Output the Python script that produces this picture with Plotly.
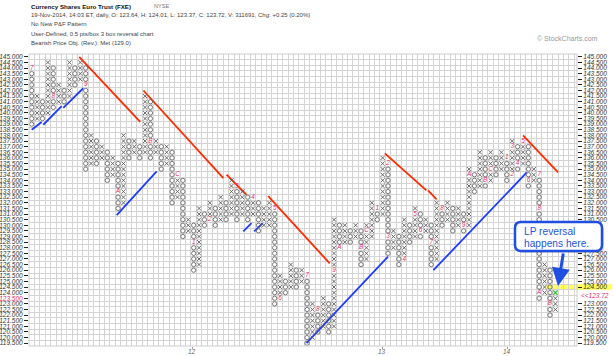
import plotly.graph_objects as go

# ---------------- data ----------------
# one entry per P&F column: type, highest box, lowest box
col_type = ["O", "X", "O", "X", "O", "X", "O", "X", "O", "X",
            "O", "X", "O", "X", "O", "X", "O", "X", "O", "X",
            "O", "X", "O", "X", "O", "X", "O", "X", "O", "X",
            "O", "X", "O", "X", "O", "X", "O", "X", "O", "X",
            "O", "X", "O", "X", "X", "O", "X", "O", "X", "O",
            "X", "O", "X", "O", "X", "O", "X", "O", "X", "O",
            "X", "O", "X", "X", "O", "X", "O", "X", "O", "X",
            "O", "X", "O", "X", "O", "X", "O", "X", "O", "X",
            "O", "X", "O", "X", "O", "X", "O", "X", "O", "X",
            "O", "X", "O", "X", "O", "X", "O", "X"]
col_top = [144, 141.5, 141, 144.5, 144, 142.5, 142, 144.5, 144, 144.5,
           144, 138, 137.5, 137, 136.5, 136, 135.5, 138, 137.5, 137.5,
           137, 141.5, 141, 137.5, 137, 137, 136.5, 134.5, 134, 130.5,
           130, 131.5, 131, 132, 131.5, 132.5, 132, 134, 133.5, 133,
           132.5, 132.5, 132, 131.5, 132, 131.5, 125.5, 125, 126.5, 126,
           126, 125.5, 123, 122.5, 123.5, 123, 130.5, 130, 130, 129.5,
           130, 129.5, 130, 132, 131.5, 136, 135.5, 129.5, 129, 130.5,
           130, 131.5, 131, 130.5, 130, 132, 131.5, 132, 131.5, 131.5,
           131, 135, 134.5, 136.5, 136, 136.5, 136, 136.5, 136, 137.5,
           137, 137.5, 137, 135, 134.5, 126.5, 126, 124]
col_bot = [139, 139.5, 139.5, 140, 140.5, 141, 141, 141.5, 142.5, 143,
           135, 135.5, 135.5, 136, 134, 134.5, 131.5, 132, 136, 136.5,
           136, 136.5, 136, 136.5, 135, 135.5, 132, 132.5, 129, 129.5,
           126, 126.5, 130, 130.5, 130, 130.5, 130.5, 131, 130.5, 131,
           130.5, 131, 129.5, 130, 130, 123, 123.5, 124, 124.5, 124.5,
           125, 119.5, 120, 120.5, 121, 120.5, 121, 128, 128.5, 128.5,
           129, 126.5, 127, 129, 130.5, 131, 127.5, 128, 126.5, 127,
           128.5, 129, 129, 129.5, 126.5, 127, 130, 130.5, 129.5, 130,
           129.5, 130, 133, 133.5, 133.5, 134, 134.5, 135, 134, 134.5,
           135, 135.5, 133.5, 134, 123.5, 124, 122, 122.5]

# month markers (red letters/digits that replace a box)
mark_col = [0, 4, 10, 16, 22, 27, 30, 33, 38, 41, 45, 46, 51, 53, 56, 57, 61, 62, 64, 66, 66,
            69, 71, 72, 74, 76, 80, 81, 84, 85, 88, 89, 89, 90, 91, 92, 94, 94, 94, 96]
mark_price = [144, 141.5, 142.5, 133, 137.5, 134.5, 128.5, 130.5, 133.5, 132.5, 131.5, 123.5, 125.5, 122.5,
              126, 128, 128, 129.5, 131.5, 135.5, 129, 127, 131, 129.5, 128.5, 131.5, 130, 134.5, 134, 135,
              136, 134.5, 137, 135.5, 137.5, 134, 134.5, 131.5, 124, 123]
mark_text = ["7", "8", "9", "A", "B", "C", "1", "2", "3", "4", "5", "6", "7", "8", "9", "A", "B", "C",
             "1", "2", "3", "4", "5", "6", "7", "8", "9", "A", "B", "C", "1", "2", "3", "4", "5", "6",
             "7", "8", "A", "B"]

last_col = 97          # current column, its newest box drawn in green
last_price = 124.0

month_tick_col = [29.7, 64.9, 88.1]
month_tick_text = ["12", "13", "14"]

price_ticks = [119.5 + 0.5 * i for i in range(52)]
last_close = 123.72

red_lines = [((8.8, 145.0), (20.1, 139.2)), ((20.7, 142.0), (35.5, 134.2)),
             ((36.1, 134.5), (39.8, 132.7)), ((43.8, 132.6), (55.2, 126.6)),
             ((65.4, 136.4), (73.1, 133.1)), ((73.4, 133.1), (75.0, 132.3)),
             ((91.0, 138.0), (97.5, 134.7))]
blue_lines = [((0.0, 138.5), (1.85, 139.2)), ((2.15, 138.95), (5.55, 140.6)),
              ((5.85, 140.45), (9.55, 142.2)), ((15.75, 130.9), (23.15, 134.8)),
              ((39.2, 129.45), (40.7, 130.2)), ((41.2, 129.45), (42.8, 130.2)),
              ((50.9, 119.5), (66.0, 127.2)), ((74.4, 126.0), (91.7, 134.7))]

# ---------------- geometry ----------------
W, H = 615, 356
ML, MT = 29, 54
PW, PH = 548, 292
MR, MB = W - ML - PW, H - MT - PH


def px(x):   # window pixel -> paper
    return (x - ML) / PW


def py(y):
    return (H - MB - y) / PH


FONT = "Liberation Sans"
GLYPH = "#5a5a5a"
RED = "#e0306a"

mark_set = {(c, p) for c, p in zip(mark_col, mark_price)}
xs_x, xs_y, os_x, os_y = [], [], [], []
for c, (t, top, bot) in enumerate(zip(col_type, col_top, col_bot)):
    n = int(round((top - bot) / 0.5)) + 1
    for i in range(n):
        p = bot + 0.5 * i
        if (c, p) in mark_set:
            continue
        if c == last_col and abs(p - last_price) < 1e-6:
            continue
        if t == "X":
            xs_x.append(c)
            xs_y.append(p)
        else:
            os_x.append(c)
            os_y.append(p)

fig = go.Figure()

for (a, b) in red_lines:
    fig.add_trace(go.Scatter(x=[a[0], b[0]], y=[a[1], b[1]], mode="lines",
                             line=dict(color="#ff2a00", width=1.8), hoverinfo="skip", showlegend=False))
for (a, b) in blue_lines:
    fig.add_trace(go.Scatter(x=[a[0], b[0]], y=[a[1], b[1]], mode="lines",
                             line=dict(color="#1e3cff", width=1.8), hoverinfo="skip", showlegend=False))

fig.add_trace(go.Scatter(x=xs_x, y=xs_y, mode="markers",
                         marker=dict(symbol="x-thin", size=4.2, line=dict(color=GLYPH, width=0.9)),
                         hoverinfo="skip", showlegend=False))
fig.add_trace(go.Scatter(x=os_x, y=os_y, mode="markers",
                         marker=dict(symbol="circle-open", size=4.3, color=GLYPH, line=dict(color=GLYPH, width=0.8)),
                         hoverinfo="skip", showlegend=False))
fig.add_trace(go.Scatter(x=mark_col, y=mark_price, text=mark_text, mode="text",
                         textfont=dict(family=FONT, size=6.4, color=RED, style="italic"),
                         hoverinfo="skip", showlegend=False))
fig.add_trace(go.Scatter(x=[last_col], y=[last_price], mode="markers",
                         marker=dict(symbol="x-thin", size=4.4, line=dict(color="#22bb22", width=1.2)),
                         hoverinfo="skip", showlegend=False))
fig.add_trace(go.Scatter(x=[0], y=[130], yaxis="y2", mode="markers", marker=dict(opacity=0),
                         hoverinfo="skip", showlegend=False))

left_text = [("<span style='color:%s'>%.3f</span>" % (RED, p)) if abs(p - 123.5) < 1e-6 else "%.3f" % p
             for p in price_ticks]
# right-hand labels: the two next to the last close and those behind the callout box are not shown
right_vals = [p for p in price_ticks if p not in (124.0, 123.5) and not (128.0 <= p <= 130.0)]
right_text = ["%.3f" % p for p in right_vals]

axis_font = dict(family=FONT, size=6.5, color="#333333", style="italic")
fig.update_layout(
    width=W, height=H, margin=dict(l=ML, r=MR, t=MT, b=MB, autoexpand=False),
    paper_bgcolor="white", plot_bgcolor="white",
    xaxis=dict(range=[-0.5, 101], showgrid=False, zeroline=False, showline=False, automargin=False,
               tickmode="array", tickvals=month_tick_col, ticktext=["" for _ in month_tick_text],
               ticks="outside", ticklen=2, tickcolor="#999999",
               minor=dict(tickmode="linear", tick0=-0.5, dtick=1, showgrid=True,
                          gridcolor="#d4d4d4", gridwidth=1)),
    yaxis=dict(range=[119.25, 145.25], showgrid=False, zeroline=False, showline=False, automargin=False,
               tickmode="array", tickvals=price_ticks, ticktext=left_text,
               ticks="outside", ticklen=4, tickcolor="#222222", tickfont=axis_font,
               minor=dict(tickmode="linear", tick0=119.25, dtick=0.5, showgrid=True,
                          gridcolor="#d4d4d4", gridwidth=1)),
    yaxis2=dict(range=[119.25, 145.25], overlaying="y", side="right", showgrid=False, automargin=False,
                zeroline=False, showline=False, tickmode="array", tickvals=right_vals,
                ticktext=right_text, ticks="outside", ticklen=4, tickcolor="#222222",
                tickfont=axis_font),
)

shapes = []
shapes.append(dict(type="rect", xref="paper", yref="paper", x0=px(546.5), x1=px(612),
                   y0=py(289.8), y1=py(284.2), fillcolor="#ffff55", line=dict(width=0), layer="between"))
shapes.append(dict(type="rect", xref="paper", yref="paper", x0=0, x1=1, y0=0, y1=1,
                   line=dict(color="#cccccc", width=1)))


def rounded(x0, y0, x1, y1, r):
    X0, X1 = px(x0), px(x1)
    Y0, Y1 = py(y0), py(y1)
    rx, ry = r / PW, r / PH
    return (f"M {X0+rx},{Y0} L {X1-rx},{Y0} Q {X1},{Y0} {X1},{Y0-ry} L {X1},{Y1+ry} "
            f"Q {X1},{Y1} {X1-rx},{Y1} L {X0+rx},{Y1} Q {X0},{Y1} {X0},{Y1+ry} L {X0},{Y0-ry} "
            f"Q {X0},{Y0} {X0+rx},{Y0} Z")


shapes.append(dict(type="path", xref="paper", yref="paper", path=rounded(517, 224, 604, 253, 6),
                   fillcolor="rgba(0,0,0,0.15)", line=dict(width=0)))
shapes.append(dict(type="path", xref="paper", yref="paper", path=rounded(515, 222, 602, 251, 6),
                   fillcolor="white", line=dict(color="#1f4fe0", width=2.5)))
fig.update_layout(shapes=shapes)

ann = []


def text(x, y, s, size, color, bold=False, anchor="left", family=FONT):
    ann.append(dict(xref="paper", yref="paper", x=px(x), y=py(y), text=("<b>%s</b>" % s) if bold else s,
                    showarrow=False, xanchor=anchor, yanchor="middle",
                    font=dict(family=family, size=size, color=color)))


text(29, 6.5, "Currency Shares Euro Trust (FXE)", 6.2, "#111111", bold=True)
text(152, 6.5, "NYSE", 5.6, "#777777")
text(29, 15, "19-Nov-2014, 14:03 ET, daily, O: 123.64, H: 124.01, L: 123.37, C: 123.72, V: 311691, Chg: +0.25 (0.20%)", 6, "#444444")
text(29, 23.5, "No New P&amp;F Pattern", 6, "#444444")
text(29, 33.5, "User-Defined, 0.5 pts/box 3 box reversal chart", 6, "#444444")
text(29, 43, "Bearish Price Obj. (Rev.): Met (129.0)", 6, "#444444")
text(600, 39, "© StockCharts.com", 7, "#999999", anchor="right")
text(522, 231, "LP reversal", 10.2, "#2255dd")
text(522, 243, "happens here.", 10.2, "#2255dd")
# year labels under the month ticks
for c, s in zip(month_tick_col, month_tick_text):
    ann.append(dict(xref="x", yref="paper", x=c, y=py(351.5), text=s, showarrow=False,
                    xanchor="center", yanchor="middle",
                    font=dict(family=FONT, size=6.5, color="#666666", style="italic")))
ann.append(dict(xref="paper", yref="y", x=px(579), y=last_close, text="&lt;&lt;%.2f" % last_close,
                showarrow=False, xanchor="left", yanchor="middle",
                font=dict(family=FONT, size=6.5, color=RED, style="italic")))
ann.append(dict(xref="paper", yref="paper", x=px(558), y=py(286), ax=5.5, ay=-34,
                axref="pixel", ayref="pixel", showarrow=True, arrowhead=2, arrowsize=1.2,
                arrowwidth=3, arrowcolor="#1f4fe0", text=""))
fig.update_layout(annotations=ann)

fig.write_html("out.html", config={"displayModeBar": False},
               post_script="document.body.style.margin='0';document.body.style.overflow='hidden';")
